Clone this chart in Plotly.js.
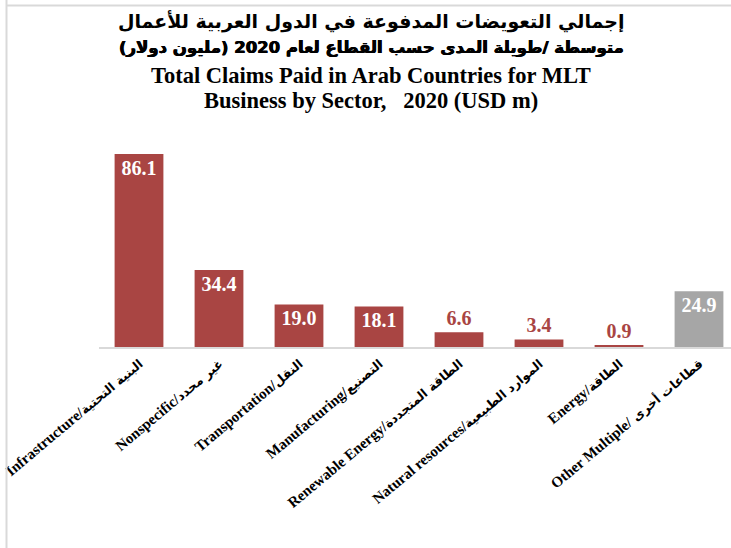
<!DOCTYPE html>
<html>
<head>
<meta charset="utf-8">
<script src="https://cdn.plot.ly/plotly-3.0.1.min.js"></script>
<style>html,body{margin:0;padding:0;background:#fff;}#chart{width:731px;height:548px;}</style>
</head>
<body>
<div id="chart"></div>
<script>
// ---- data ----
const categories = [
  "Infrastructure/البنية التحتية",
  "Nonspecific/غير محدد",
  "Transportation/النقل",
  "Manufacturing/التصنيع",
  "Renewable Energy/الطاقة المتجددة",
  "Natural resources/الموارد الطبيعية",
  "Energy/الطاقة",
  "Other Multiple/ قطاعات أخرى"
];
const values = [86.1, 34.4, 19.0, 18.1, 6.6, 3.4, 0.9, 24.9];
const titleLines = [
  "إجمالي التعويضات المدفوعة في الدول العربية للأعمال",
  "متوسطة /طويلة المدى حسب القطاع لعام 2020 (مليون دولار)",
  "Total Claims Paid in Arab Countries for MLT",
  "Business by Sector,   2020 (USD m)"
];

// ---- styling ----
const RED = "#A94543", GREY = "#A6A6A6";
const lastIdx = categories.length - 1;
const barColors = values.map((v, i) => i === lastIdx ? GREY : RED);
const textPos = values.map(v => v >= 10 ? "inside" : "outside");
const serif = "Liberation Serif, 'Times New Roman', DejaVu Sans, serif";

// tick text: English part in serif, Arabic part smaller in an Arabic-capable font
const tickText = categories.map(c => {
  const k = c.indexOf("/");
  const en = c.slice(0, k + 1), ar = c.slice(k + 1);
  return en + '<span style="font-family:DejaVu Sans;font-size:12.5px;font-weight:bold">' + ar + '</span>';
});

const L = 99, T = 100, B = 201, W = 731, H = 548;
const plotW = W - L, plotH = H - T - B;
const pxPerUnit = 193 / 86.1;
const yMax = plotH / pxPerUnit;
const xMax = -0.5 + plotW / 80;

const trace = {
  type: "bar",
  x: categories,
  y: values,
  marker: {color: barColors},
  texttemplate: "%{y:.1f}",
  textposition: textPos,
  textangle: 0,
  constraintext: "none",
  cliponaxis: false,
  insidetextfont: {family: serif, size: 20, color: "#ffffff", weight: "bold"},
  outsidetextfont: {family: serif, size: 20, color: RED, weight: "bold"},
  hoverinfo: "x+y"
};

const px2x = p => (p - L) / plotW;
const py2y = p => (H - B - p) / plotH;
const titleY = [22, 48, 75, 100];
const titleSizes = [19, 16.5, 22.5, 22.5];
const titleFonts = ["DejaVu Sans, sans-serif", "DejaVu Sans, sans-serif", serif, serif];
const titleShadow = ["none", "0.45px 0 0 #000, -0.45px 0 0 #000", "none", "none"];
const annotations = titleLines.map((t, i) => ({
  text: "<b>" + t + "</b>",
  xref: "paper", yref: "paper",
  x: px2x(371), y: py2y(titleY[i]),
  xanchor: "center", yanchor: "middle",
  showarrow: false,
  font: {family: titleFonts[i], size: titleSizes[i], color: "#000", weight: "bold", shadow: titleShadow[i]}
}));

const frame = "#D9D9D9";
const shapes = [
  {type: "line", xref: "paper", yref: "paper", x0: px2x(6.5), x1: px2x(6.5), y0: py2y(0), y1: py2y(H), line: {color: frame, width: 2}},
  {type: "line", xref: "paper", yref: "paper", x0: px2x(6.5), x1: px2x(W), y0: py2y(5.5), y1: py2y(5.5), line: {color: frame, width: 2}}
];

const layout = {
  width: W, height: H,
  margin: {l: L, r: 0, t: T, b: B, pad: 0},
  paper_bgcolor: "#fff", plot_bgcolor: "#fff",
  showlegend: false,
  bargap: 0.39,
  xaxis: {
    range: [-0.5, xMax],
    tickangle: -40,
    tickmode: "array",
    tickvals: categories,
    ticktext: tickText,
    tickfont: {family: serif, size: 15, color: "#000", weight: "bold"},
    showline: true, linecolor: "#D9D9D9", linewidth: 2,
    ticks: "", showgrid: false, zeroline: false, fixedrange: true
  },
  yaxis: {
    range: [0, yMax],
    visible: false, showgrid: false, zeroline: false, fixedrange: true
  },
  annotations: annotations,
  shapes: shapes
};

Plotly.newPlot("chart", [trace], layout, {displayModeBar: false, staticPlot: true});
</script>
</body>
</html>
